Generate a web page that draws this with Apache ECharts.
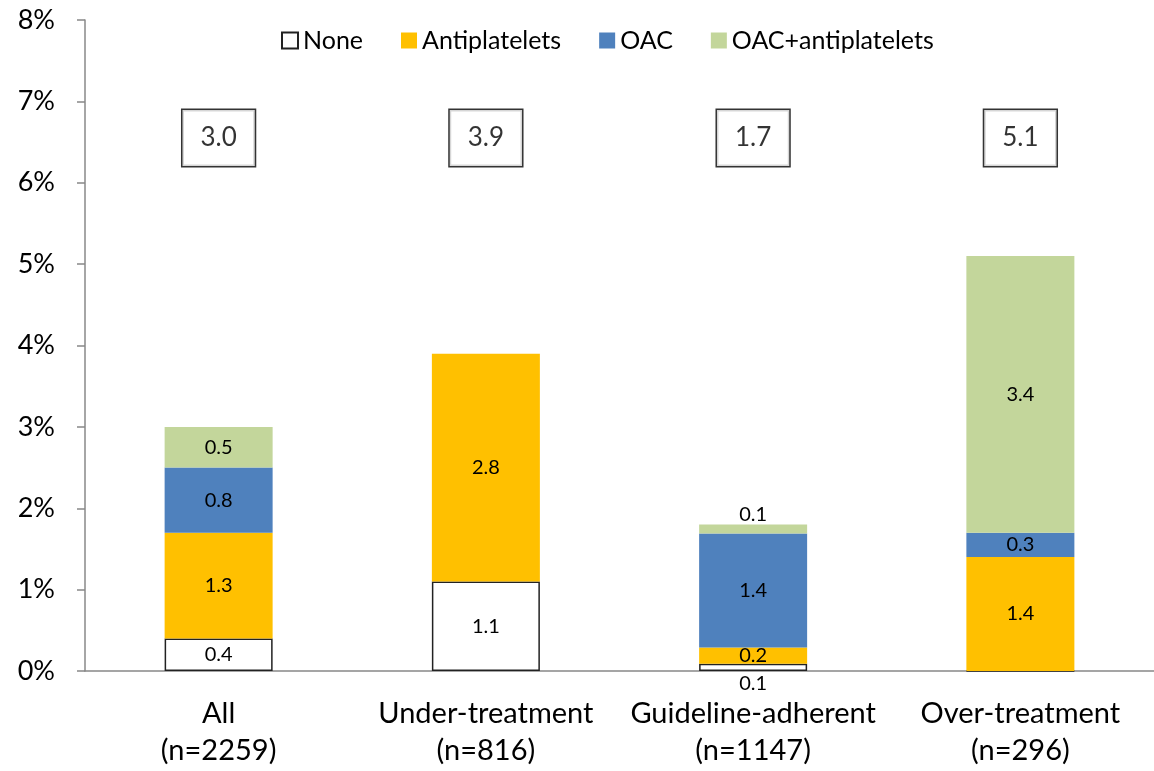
<!DOCTYPE html>
<html>
<head>
<meta charset="utf-8">
<script src="https://cdn.jsdelivr.net/npm/echarts@6/dist/echarts.min.js"></script>
<style>
  html, body { margin: 0; padding: 0; background: #fff; }
  #chart { width: 1154px; height: 771px; }
</style>
</head>
<body>
<div id="chart"></div>
<script>
// groups and stacked values (% per year)
var categories = ['All\n(n=2259)', 'Under-treatment\n(n=816)', 'Guideline-adherent\n(n=1147)', 'Over-treatment\n(n=296)']
var noneVals = [0.4, 1.1, 0.09, 0]
var antiVals = [1.3, 2.8, 0.2, 1.4]
var oacVals = [0.8, 0, 1.4, 0.3]
var comboVals = [0.5, 0, 0.11, 3.4]
var totals = ['3.0', '3.9', '1.7', '5.1']
var boxLevel = [6.55, 6.55, 6.55, 6.55]
var yTicks = ['0%', '1%', '2%', '3%', '4%', '5%', '6%', '7%', '8%']

var font = 'Lato, "Open Sans", sans-serif'

function labelOf (arr, pos) {
    return {
        show: true,
        position: pos || 'inside',
        color: '#000',
        fontSize: 20,
        fontFamily: font,
        formatter: function (p) {
            if (!p.value) return ''
            return p.value < 0.1 ? '0.1' : (Math.round(p.value * 10) / 10).toFixed(1)
        }
    }
}

var myChart = echarts.init(document.getElementById('chart'))
var option = {
    animation: false,
    legend: {
        data: ['None', 'Antiplatelets', 'OAC', 'OAC+antiplatelets'],
        top: 23,
        left: 276,
        itemWidth: 16,
        itemHeight: 16,
        itemGap: 38,
        icon: 'rect',
        textStyle: { fontSize: 25, color: '#000', fontFamily: font, padding: [0, 0, 0, 0] }
    },
    grid: { left: 85, right: -6, top: 20, bottom: 100 },
    xAxis: {
        type: 'category',
        data: categories,
        axisLine: { lineStyle: { color: '#888', width: 1.5 } },
        axisTick: { length: 12, lineStyle: { color: '#888', width: 1.5 } },
        axisLabel: { interval: 0, color: '#000', fontSize: 29, fontFamily: font, lineHeight: 37, margin: 24 }
    },
    yAxis: {
        type: 'value',
        min: 0,
        max: 8,
        interval: 1,
        splitLine: { show: false },
        axisLine: { show: true, lineStyle: { color: '#888', width: 1.5 } },
        axisTick: { show: true, length: 8, inside: false, lineStyle: { color: '#888', width: 1.5 } },
        axisLabel: {
            color: '#000', fontSize: 27, fontFamily: font, margin: 30,
            formatter: function (v) { return yTicks[v] }
        }
    },
    series: [
        {
            name: 'None', type: 'bar', stack: 'a', barWidth: 108, data: noneVals,
            itemStyle: { color: '#fff', borderColor: '#222', borderWidth: 1.5 },
            label: {
                show: true, color: '#000', fontSize: 20, fontFamily: font,
                formatter: function (p) { return p.value ? (p.value < 0.1 ? '' : p.value.toFixed(1)) : '' }
            }
        },
        {
            name: 'Antiplatelets', type: 'bar', stack: 'a', data: antiVals,
            itemStyle: { color: '#FFC000' }, label: labelOf(antiVals)
        },
        {
            name: 'OAC', type: 'bar', stack: 'a', data: oacVals,
            itemStyle: { color: '#4F81BD' }, label: labelOf(oacVals)
        },
        {
            name: 'OAC+antiplatelets', type: 'bar', stack: 'a', data: comboVals,
            itemStyle: { color: '#C3D69B' },
            label: {
                show: true, color: '#000', fontSize: 20, fontFamily: font,
                position: 'inside',
                formatter: function (p) { return p.value && p.value >= 0.2 ? p.value.toFixed(1) : '' }
            }
        },
        // small labels drawn outside the thin guideline-adherent segments
        {
            name: 'smallTop', type: 'bar', stack: 'a', data: [0, 0, 0.0001, 0],
            itemStyle: { color: 'transparent' },
            label: {
                show: true, position: 'top', distance: 0, color: '#000', fontSize: 20, fontFamily: font,
                formatter: function (p) { return p.value ? '0.1' : '' }
            }
        },
        {
            name: 'smallBottom', type: 'bar', stack: 'b', barGap: '-100%', barWidth: 108, data: [0, 0, 0.0001, 0],
            itemStyle: { color: 'transparent' },
            label: {
                show: true, position: 'bottom', distance: 3, color: '#000', fontSize: 20, fontFamily: font,
                formatter: function (p) { return p.value ? '0.1' : '' }
            }
        },
        {
            name: 'total', type: 'scatter', data: boxLevel, symbolSize: 1,
            itemStyle: { color: 'transparent' },
            label: {
                show: true, position: 'inside', color: '#000', fontSize: 26, fontFamily: font,
                borderColor: '#000', borderWidth: 1.5, backgroundColor: '#fff',
                padding: [15, 18, 15, 18],
                formatter: function (p) { return totals[p.dataIndex] }
            }
        }
    ]
}
myChart.setOption(option)
</script>
</body>
</html>
